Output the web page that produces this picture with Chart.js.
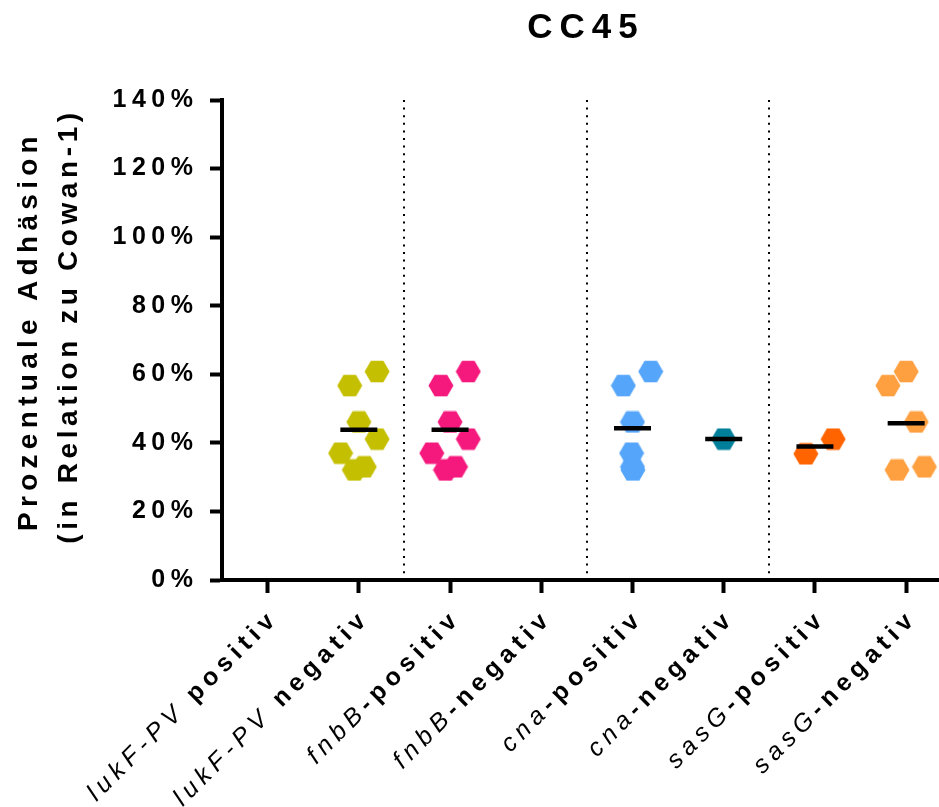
<!DOCTYPE html>
<html>
<head>
<meta charset="utf-8">
<script src="https://cdn.jsdelivr.net/npm/chart.js@4.4.1/dist/chart.umd.min.js"></script>
<style>
  html, body { margin: 0; padding: 0; background: #fff; }
  #wrap { width: 939px; height: 807px; }
</style>
</head>
<body>
<div id="wrap"><canvas id="myChart" width="939" height="807"></canvas></div>
<script>
// Kategorien der x-Achse: Gen (kursiv) + Status (fett)
const genes = ['lukF-PV', 'lukF-PV', 'fnbB', 'fnbB', 'cna', 'cna', 'sasG', 'sasG'];
const statusText = [' positiv', ' negativ', '-positiv', '-negativ', '-positiv', '-negativ', '-positiv', '-negativ'];
const colors = ['#C4BF00', '#C4BF00', '#F5197E', '#F5197E', '#55A5FA', '#007F9A', '#FF6400', '#FFA040'];

// Prozentuale Adhäsion je Gruppe
const lukfPos = [];
const lukfNeg = [60.8, 56.7, 46.1, 41.1, 37.0, 33.0, 32.1];
const fnbbPos = [60.8, 56.7, 46.1, 41.1, 37.0, 33.0, 32.1];
const fnbbNeg = [];
const cnaPos = [60.8, 56.7, 46.1, 37.0, 33.0, 32.1];
const cnaNeg = [41.1];
const sasgPos = [41.1, 36.8];
const sasgNeg = [60.8, 56.7, 46.1, 33.0, 32.1];

// seitliche Streuung der Punkte (in Kategorie-Einheiten)
const lukfNegJitter = [0.2, -0.1, 0, 0.2, -0.2, 0.06, -0.05];
const fnbbPosJitter = [0.2, -0.1, 0, 0.2, -0.2, 0.06, -0.05];
const cnaPosJitter = [0.2, -0.1, 0, -0.01, 0, 0.005];
const cnaNegJitter = [0];
const sasgPosJitter = [0.2, -0.1];
const sasgNegJitter = [0, -0.2, 0.11, 0.2, -0.1];

const yTicks = [0, 20, 40, 60, 80, 100, 120, 140];
const separators = [1.5, 3.5, 5.5];

const FONT = '"Liberation Sans", Arial, Helvetica, sans-serif';

const groups = [lukfPos, lukfNeg, fnbbPos, fnbbNeg, cnaPos, cnaNeg, sasgPos, sasgNeg];
const jitters = [[], lukfNegJitter, fnbbPosJitter, [], cnaPosJitter, cnaNegJitter, sasgPosJitter, sasgNegJitter];

// Sechseck als Punktsymbol
function hexagon(color) {
    const r = 12.5;
    const c = document.createElement('canvas');
    c.width = 26;
    c.height = 23;
    const g = c.getContext('2d');
    g.fillStyle = color;
    g.beginPath();
    for (let k = 0; k < 6; k++) {
        const a = k * Math.PI / 3;
        const px = 13 + r * Math.cos(a);
        const py = 11.5 + r * Math.sin(a);
        if (k === 0) g.moveTo(px, py); else g.lineTo(px, py);
    }
    g.closePath();
    g.fill();
    return c;
}

function mean(arr) {
    return arr.reduce((s, v) => s + v, 0) / arr.length;
}

const pointSets = groups.map((vals, i) => ({
    label: genes[i] + statusText[i],
    data: vals.map((v, k) => ({ x: i + jitters[i][k], y: v })),
    pointStyle: hexagon(colors[i]),
    pointRadius: 12,
    pointHoverRadius: 12,
    backgroundColor: colors[i],
    borderColor: colors[i],
    order: 2
}));

const meanSet = {
    label: 'Mittelwert',
    data: groups.map((vals, i) => vals.length ? { x: i, y: mean(vals) } : null).filter(Boolean),
    pointStyle: 'line',
    pointRadius: 18.5,
    pointHoverRadius: 18.5,
    borderColor: '#000',
    borderWidth: 4.5,
    order: 1
};

// Texte und gepunktete Trennlinien
const customDraw = {
    id: 'customDraw',
    beforeDraw(chart) {
        chart.ctx.letterSpacing = '5.5px';
    },
    beforeDatasetsDraw(chart) {
        const { ctx, chartArea, scales: { x } } = chart;
        ctx.save();
        ctx.strokeStyle = '#000';
        ctx.lineWidth = 2;
        ctx.setLineDash([2, 5.6]);
        separators.forEach(s => {
            const px = Math.round(x.getPixelForValue(s));
            ctx.beginPath();
            ctx.moveTo(px, chartArea.top);
            ctx.lineTo(px, chartArea.bottom);
            ctx.stroke();
        });
        ctx.restore();
    },
    afterDraw(chart) {
        const { ctx, scales: { x } } = chart;
        ctx.save();
        ctx.fillStyle = '#000';

        // Titel
        ctx.letterSpacing = '7px';
        ctx.font = 'bold 35px ' + FONT;
        ctx.textAlign = 'center';
        ctx.textBaseline = 'alphabetic';
        ctx.fillText('CC45', 586, 38);

        // y-Achsentitel
        ctx.font = 'bold 28px ' + FONT;
        ctx.letterSpacing = '5.3px';
        ctx.save();
        ctx.translate(37, 331);
        ctx.rotate(-Math.PI / 2);
        ctx.fillText('Prozentuale Adhäsion', 0, 0);
        ctx.restore();
        ctx.letterSpacing = '4.6px';
        ctx.save();
        ctx.translate(77, 326);
        ctx.rotate(-Math.PI / 2);
        ctx.fillText('(in Relation zu Cowan-1)', 0, 0);
        ctx.restore();

        // x-Beschriftungen (Gen kursiv, Status fett)
        ctx.letterSpacing = '5.5px';
        genes.forEach((g, i) => {
            const px = x.getPixelForValue(i);
            ctx.save();
            ctx.translate(px + 12, 619);
            ctx.rotate(-Math.PI / 4);
            ctx.textAlign = 'right';
            ctx.font = 'bold 25px ' + FONT;
            ctx.fillText(statusText[i], 0, 0);
            const w = ctx.measureText(statusText[i]).width;
            ctx.font = 'italic 25px ' + FONT;
            ctx.fillText(g, -w, 0);
            ctx.restore();
        });
        ctx.restore();
    }
};

const ctx = document.getElementById('myChart').getContext('2d');
const myChart = new Chart(ctx, {
    type: 'scatter',
    data: { datasets: [meanSet, ...pointSets] },
    options: {
        responsive: false,
        animation: false,
        layout: { autoPadding: false, padding: { top: 100, left: 0, right: 0, bottom: 0 } },
        plugins: {
            legend: { display: false },
            title: { display: false },
            tooltip: { enabled: false }
        },
        scales: {
            x: {
                type: 'linear',
                min: -0.5,
                max: 7.36,
                afterBuildTicks: s => { s.ticks = genes.map((g, i) => ({ value: i })); },
                afterFit: s => { s.height = 227; },
                ticks: { display: false },
                grid: { drawOnChartArea: false, drawTicks: true, tickLength: 13, tickWidth: 4, tickColor: '#000' },
                border: { display: true, width: 4, color: '#000' }
            },
            y: {
                min: 0,
                max: 140,
                afterBuildTicks: s => { s.ticks = yTicks.map(v => ({ value: v })); },
                afterFit: s => { s.width = 222; },
                ticks: {
                    callback: v => v + '%',
                    font: { size: 25, weight: 'bold', family: FONT },
                    color: '#000',
                    padding: 11.5
                },
                grid: { drawOnChartArea: false, drawTicks: true, tickLength: 12, tickWidth: 4, tickColor: '#000' },
                border: { display: true, width: 4, color: '#000' }
            }
        }
    },
    plugins: [customDraw]
});
</script>
</body>
</html>
